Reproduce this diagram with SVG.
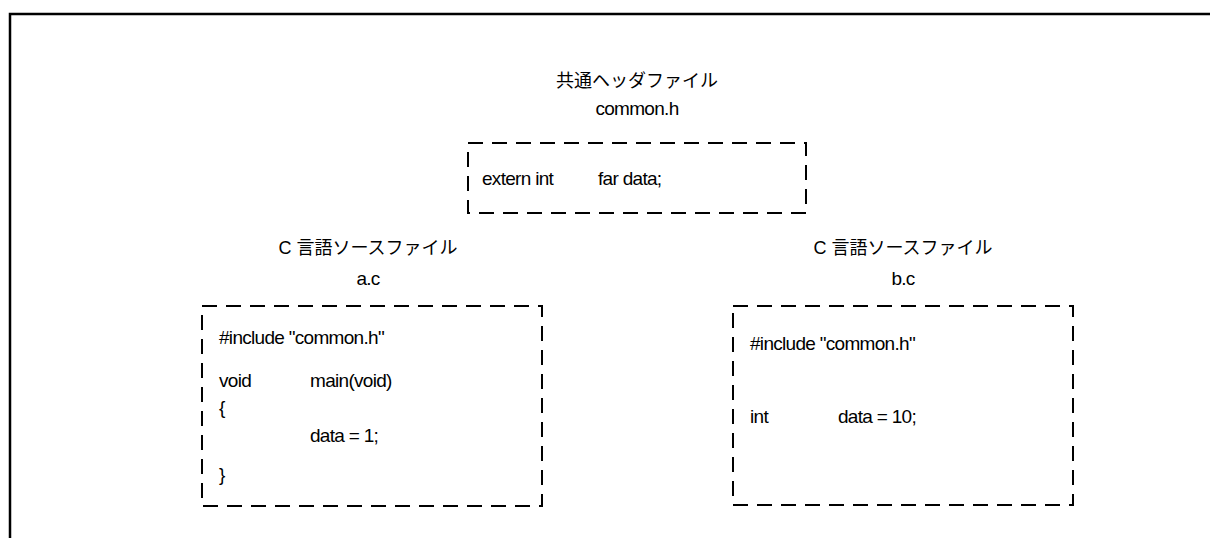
<svg xmlns="http://www.w3.org/2000/svg" width="1210" height="538" viewBox="0 0 1210 538">
<style>
.box{fill:none;stroke:#000;stroke-width:2;stroke-dasharray:15 9}
.t{font-family:"Liberation Sans",Arial,sans-serif;font-size:19px;fill:#000;letter-spacing:-0.7px}
.j{font-family:"Liberation Sans","Noto Sans CJK JP",sans-serif;font-size:18px;fill:#000}
.c{text-anchor:middle}
</style>
<rect width="1210" height="538" fill="#fff"/>
<path d="M10 538 V14 H1210" fill="none" stroke="#000" stroke-width="2.5"/>
<g id="header">
<text class="j c" x="637" y="87">共通ヘッダファイル</text>
<text class="t c" x="637" y="115">common.h</text>
<rect class="box" x="468" y="143" width="338" height="70"/>
<text class="t" x="482" y="185">extern int</text>
<text class="t" x="598" y="185">far data;</text>
</g>
<g id="a_c">
<text class="j c" x="368" y="254">C 言語ソースファイル</text>
<text class="t c" x="368" y="285">a.c</text>
<rect class="box" x="202" y="306" width="340" height="200"/>
<text class="t" x="219" y="344">#include "common.h"</text>
<text class="t" x="219" y="387">void</text>
<text class="t" x="310" y="387">main(void)</text>
<text class="t" x="219" y="414">{</text>
<text class="t" x="310" y="442">data = 1;</text>
<text class="t" x="219" y="481">}</text>
</g>
<g id="b_c">
<text class="j c" x="903" y="254">C 言語ソースファイル</text>
<text class="t c" x="903" y="285">b.c</text>
<rect class="box" x="733" y="306" width="340" height="199"/>
<text class="t" x="750" y="350">#include "common.h"</text>
<text class="t" x="750" y="423">int</text>
<text class="t" x="838" y="423">data = 10;</text>
</g>
<g id="connectors"></g>
</svg>
